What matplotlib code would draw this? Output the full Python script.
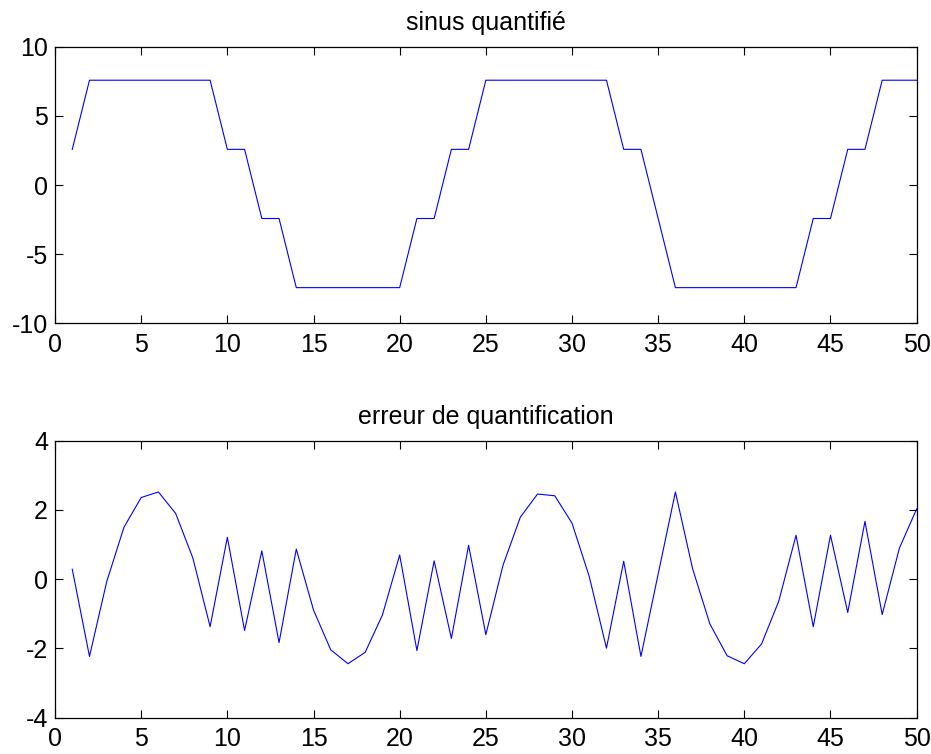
import matplotlib.pyplot as plt
import numpy as np

plt.rcParams['font.family'] = ['Liberation Sans', 'DejaVu Sans']
plt.rcParams['axes.unicode_minus'] = False

# échantillons 1..50
n = np.arange(1, 51)

sinus_q = [2.58, 7.58, 7.58, 7.58, 7.58, 7.58, 7.58, 7.58, 7.58, 2.58,
           2.58, -2.42, -2.42, -7.42, -7.42, -7.42, -7.42, -7.42, -7.42, -7.42,
           -2.42, -2.42, 2.58, 2.58, 7.58, 7.58, 7.58, 7.58, 7.58, 7.58,
           7.58, 7.58, 2.58, 2.58, -2.42, -7.42, -7.42, -7.42, -7.42, -7.42,
           -7.42, -7.42, -7.42, -2.42, -2.42, 2.58, 2.58, 7.58, 7.58, 7.58]

# erreur de quantification
erreur = [0.29, -2.23, -0.07, 1.50, 2.36, 2.52, 1.90, 0.61, -1.37, 1.21,
          -1.48, 0.82, -1.83, 0.87, -0.89, -2.04, -2.44, -2.11, -1.03, 0.70,
          -2.06, 0.53, -1.71, 0.98, -1.60, 0.41, 1.79, 2.46, 2.41, 1.62,
          0.08, -1.99, 0.52, -2.23, 0.15, 2.52, 0.30, -1.29, -2.21, -2.44,
          -1.87, -0.63, 1.27, -1.37, 1.27, -0.96, 1.67, -1.02, 0.90, 2.03]

fig = plt.figure(figsize=(9.31, 7.54), dpi=100)
ax1 = fig.add_axes([0.0591, 0.5712, 0.9255, 0.3668])
ax2 = fig.add_axes([0.0591, 0.0481, 0.9255, 0.3674])


def style_matlab(ax, ylim, yticks, titre):
    ax.set_xlim(0, 50)
    ax.set_ylim(*ylim)
    ax.set_xticks(np.arange(0, 51, 5))
    ax.set_yticks(yticks)
    ax.tick_params(direction='in', top=True, right=True, length=6, width=0.8,
                   labelsize=18, color='black')
    ax.tick_params(axis='x', pad=7)
    ax.tick_params(axis='y', pad=5)
    for s in ax.spines.values():
        s.set_linewidth(0.9)
    ax.set_title(titre, fontsize=18, pad=12)


ax1.plot(n, sinus_q, color='#0000FF', linewidth=0.8)
style_matlab(ax1, (-10, 10), [-10, -5, 0, 5, 10], 'sinus quantifié')

ax2.plot(n, erreur, color='#0000FF', linewidth=0.8)
style_matlab(ax2, (-4, 4), [-4, -2, 0, 2, 4], 'erreur de quantification')

plt.savefig('out.png', dpi=100)
